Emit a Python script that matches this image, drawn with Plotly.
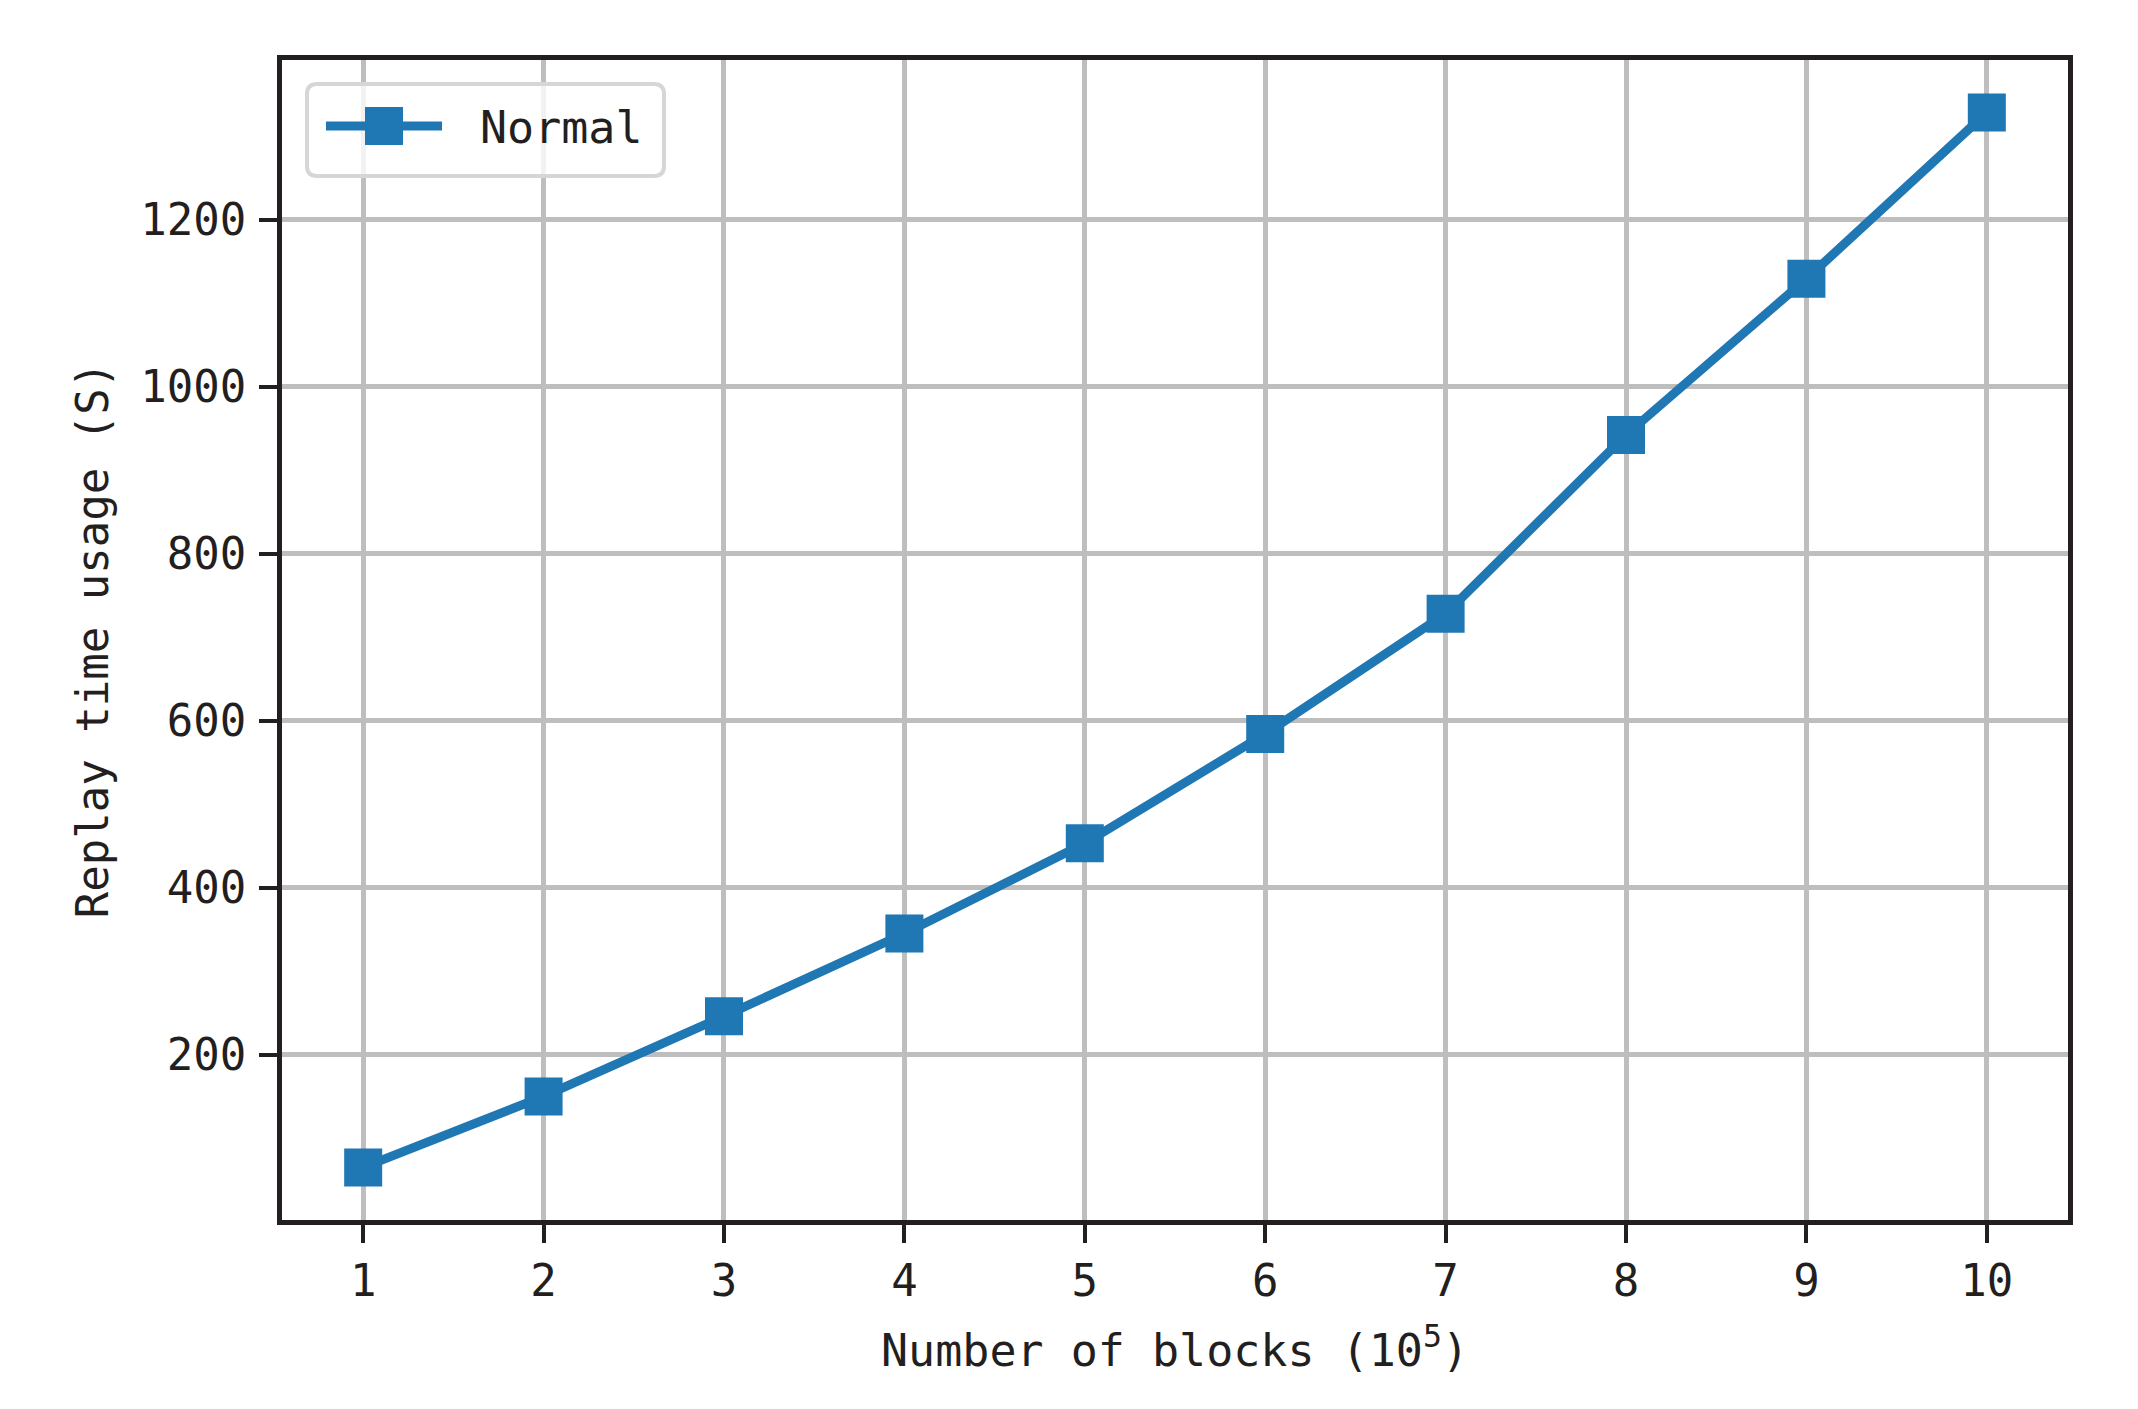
import plotly.graph_objects as go

blocks = [1, 2, 3, 4, 5, 6, 7, 8, 9, 10]
replay_time = [65, 150, 246, 345, 453, 584, 728, 942, 1129, 1328]
y_ticks = [200, 400, 600, 800, 1000, 1200]
series_name = "Normal"

# page body has an 8px margin, so the figure is sized/offset to compensate
OFF = 8
W, H = 2138 - OFF, 1409 - OFF
ML, MR, MT, MB = 282 - OFF, 70, 60 - OFF, 189
PL, PR, PT, PB = 282, 2068, 60, 1220  # plot area in page pixels
PW, PH = PR - PL, PB - PT

FONT = "DejaVu Sans Mono"
TXT = "#231f20"
BLUE = "#1f77b4"
GRID = "#bebebe"


def px(x):
    return (x - PL) / PW


def py(y):
    return (PB - y) / PH


fig = go.Figure()
fig.add_trace(go.Scatter(
    x=blocks, y=replay_time, name=series_name, mode="lines+markers",
    line=dict(color=BLUE, width=9),
    marker=dict(symbol="square", size=38, color=BLUE),
    showlegend=False,
))

axis_common = dict(
    showline=True, linecolor=TXT, linewidth=5, mirror=True,
    ticks="outside", ticklen=18, tickwidth=4, tickcolor=TXT,
    showgrid=True, gridcolor=GRID, gridwidth=5,
    zeroline=False,
    tickfont=dict(family=FONT, size=44, color=TXT),
)

# legend box (rounded rectangle) drawn in paper coordinates
lx0, lx1, ly0, ly1, r = 307, 664, 84, 176, 10
rx, ry = r / PW, r / PH
X0, X1, Y0, Y1 = px(lx0), px(lx1), py(ly1), py(ly0)
box_path = (
    f"M {X0 + rx},{Y0} L {X1 - rx},{Y0} Q {X1},{Y0} {X1},{Y0 + ry} "
    f"L {X1},{Y1 - ry} Q {X1},{Y1} {X1 - rx},{Y1} "
    f"L {X0 + rx},{Y1} Q {X0},{Y1} {X0},{Y1 - ry} "
    f"L {X0},{Y0 + ry} Q {X0},{Y0} {X0 + rx},{Y0} Z"
)
shapes = [
    dict(type="path", xref="paper", yref="paper", path=box_path,
         fillcolor="rgba(255,255,255,0.8)", line=dict(color="#d6d6d6", width=4),
         layer="above"),
    dict(type="line", xref="paper", yref="paper",
         x0=px(326), x1=px(442), y0=py(126), y1=py(126),
         line=dict(color=BLUE, width=9), layer="above"),
    dict(type="rect", xref="paper", yref="paper",
         x0=px(365), x1=px(403), y0=py(145), y1=py(107),
         fillcolor=BLUE, line=dict(width=0), layer="above"),
]
annotations = [
    dict(text=series_name, xref="paper", yref="paper", x=px(478), y=py(127),
         xanchor="left", yanchor="middle", showarrow=False,
         font=dict(family=FONT, size=45, color=TXT)),
]

fig.update_layout(
    width=W, height=H,
    margin=dict(l=ML, r=MR, t=MT, b=MB, autoexpand=False),
    paper_bgcolor="white", plot_bgcolor="white",
    font=dict(family=FONT, size=44, color=TXT),
    showlegend=False,
    shapes=shapes,
    annotations=annotations,
    xaxis=dict(
        range=[0.55, 10.45], tickmode="array", tickvals=blocks,
        ticktext=[str(b) for b in blocks],
        title=dict(text="Number of blocks (10<sup>5</sup>)", standoff=31,
                   font=dict(family=FONT, size=45, color=TXT)),
        ticklabelstandoff=0,
        **axis_common,
    ),
    yaxis=dict(
        range=[2, 1391], tickmode="array", tickvals=y_ticks,
        ticktext=[str(v) for v in y_ticks],
        title=dict(text="Replay time usage (S)", standoff=19,
                   font=dict(family=FONT, size=44, color=TXT)),
        ticklabelstandoff=4,
        **axis_common,
    ),
)

fig.write_html("out.html")
